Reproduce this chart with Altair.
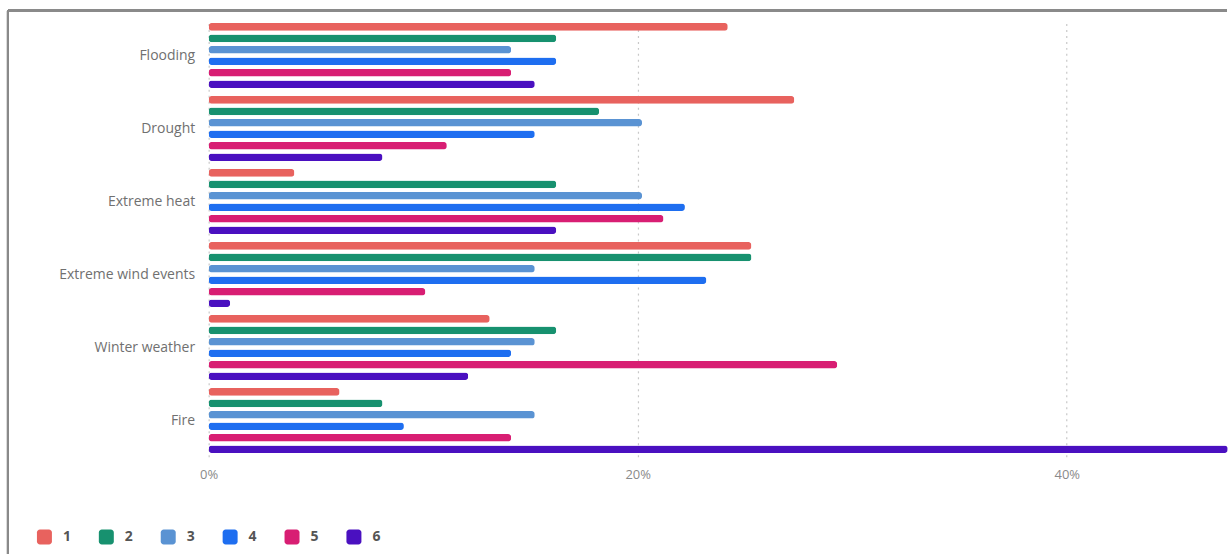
import altair as alt
import pandas as pd

categories = ["Flooding", "Drought", "Extreme heat", "Extreme wind events", "Winter weather", "Fire"]
series = ["1", "2", "3", "4", "5", "6"]
# percentage values per category, in series order 1..6
values = {
    "Flooding":            [24.2, 16.2, 14.1, 16.2, 14.1, 15.2],
    "Drought":             [27.3, 18.2, 20.2, 15.2, 11.1, 8.1],
    "Extreme heat":        [4.0, 16.2, 20.2, 22.2, 21.2, 16.2],
    "Extreme wind events": [25.3, 25.3, 15.2, 23.2, 10.1, 1.0],
    "Winter weather":      [13.1, 16.2, 15.2, 14.1, 29.3, 12.1],
    "Fire":                [6.1, 8.1, 15.2, 9.1, 14.1, 47.5],
}
colors = ["#e8625e", "#17916f", "#5a93d3", "#1e6ef0", "#d81e73", "#4a10c0"]
x_ticks = [0, 0.2, 0.4]

rows = []
for c in categories:
    for s, v in zip(series, values[c]):
        rows.append({"category": c, "series": s, "value": v / 100})
df = pd.DataFrame(rows)

rounded = "M-0.6,-1 H0.6 A0.4,0.4 0 0 1 1,-0.6 V0.6 A0.4,0.4 0 0 1 0.6,1 H-0.6 A0.4,0.4 0 0 1 -1,0.6 V-0.6 A0.4,0.4 0 0 1 -0.6,-1 Z"

bars = alt.Chart(df).mark_bar(cornerRadius=3).encode(
    y=alt.Y("category:N", sort=categories,
            scale=alt.Scale(paddingInner=0.11, paddingOuter=0.05),
            axis=alt.Axis(title=None, domain=False, ticks=False, labelPadding=14,
                          labelFontSize=14, labelColor="#707070", labelFont="Open Sans")),
    yOffset=alt.YOffset("series:N", sort=series, scale=alt.Scale(paddingInner=0.34)),
    x=alt.X("value:Q", scale=alt.Scale(domain=[0, 0.4747], nice=False),
            axis=alt.Axis(title=None, format=".0%", values=x_ticks, domain=False, ticks=False,
                          grid=True, gridDash=[2, 4], gridColor="#c8c8c8", gridWidth=1.2,
                          labelFlush=False,
                          labelFontSize=13, labelColor="#8a8a8a", labelFont="Open Sans",
                          labelPadding=12)),
    color=alt.Color("series:N", sort=series,
                    scale=alt.Scale(domain=series, range=colors),
                    legend=alt.Legend(title=None, orient="none", direction="horizontal",
                                      legendX=-172, legendY=511, symbolType=rounded,
                                      symbolSize=225, symbolStrokeWidth=0, labelFontSize=14,
                                      labelColor="#555555", labelFont="Open Sans",
                                      labelFontWeight="bold", labelOffset=11,
                                      columnPadding=27)),
)

frame_top = alt.Chart(df).mark_rule(color="#8a8a8a", strokeWidth=2).encode(
    x=alt.value(-201), x2=alt.value(1020), y=alt.value(-9)
)
frame_left = alt.Chart(df).mark_rule(color="#8a8a8a", strokeWidth=2).encode(
    x=alt.value(-201), y=alt.value(-9), y2=alt.value(540)
)

chart = alt.layer(bars, frame_top, frame_left).properties(
    width=1020, height=438, background="white",
    padding={"left": 7, "top": 9, "right": 2, "bottom": 0},
).configure_view(stroke=None)

chart.save("out.html", embed_options={"renderer": "svg", "actions": False})
